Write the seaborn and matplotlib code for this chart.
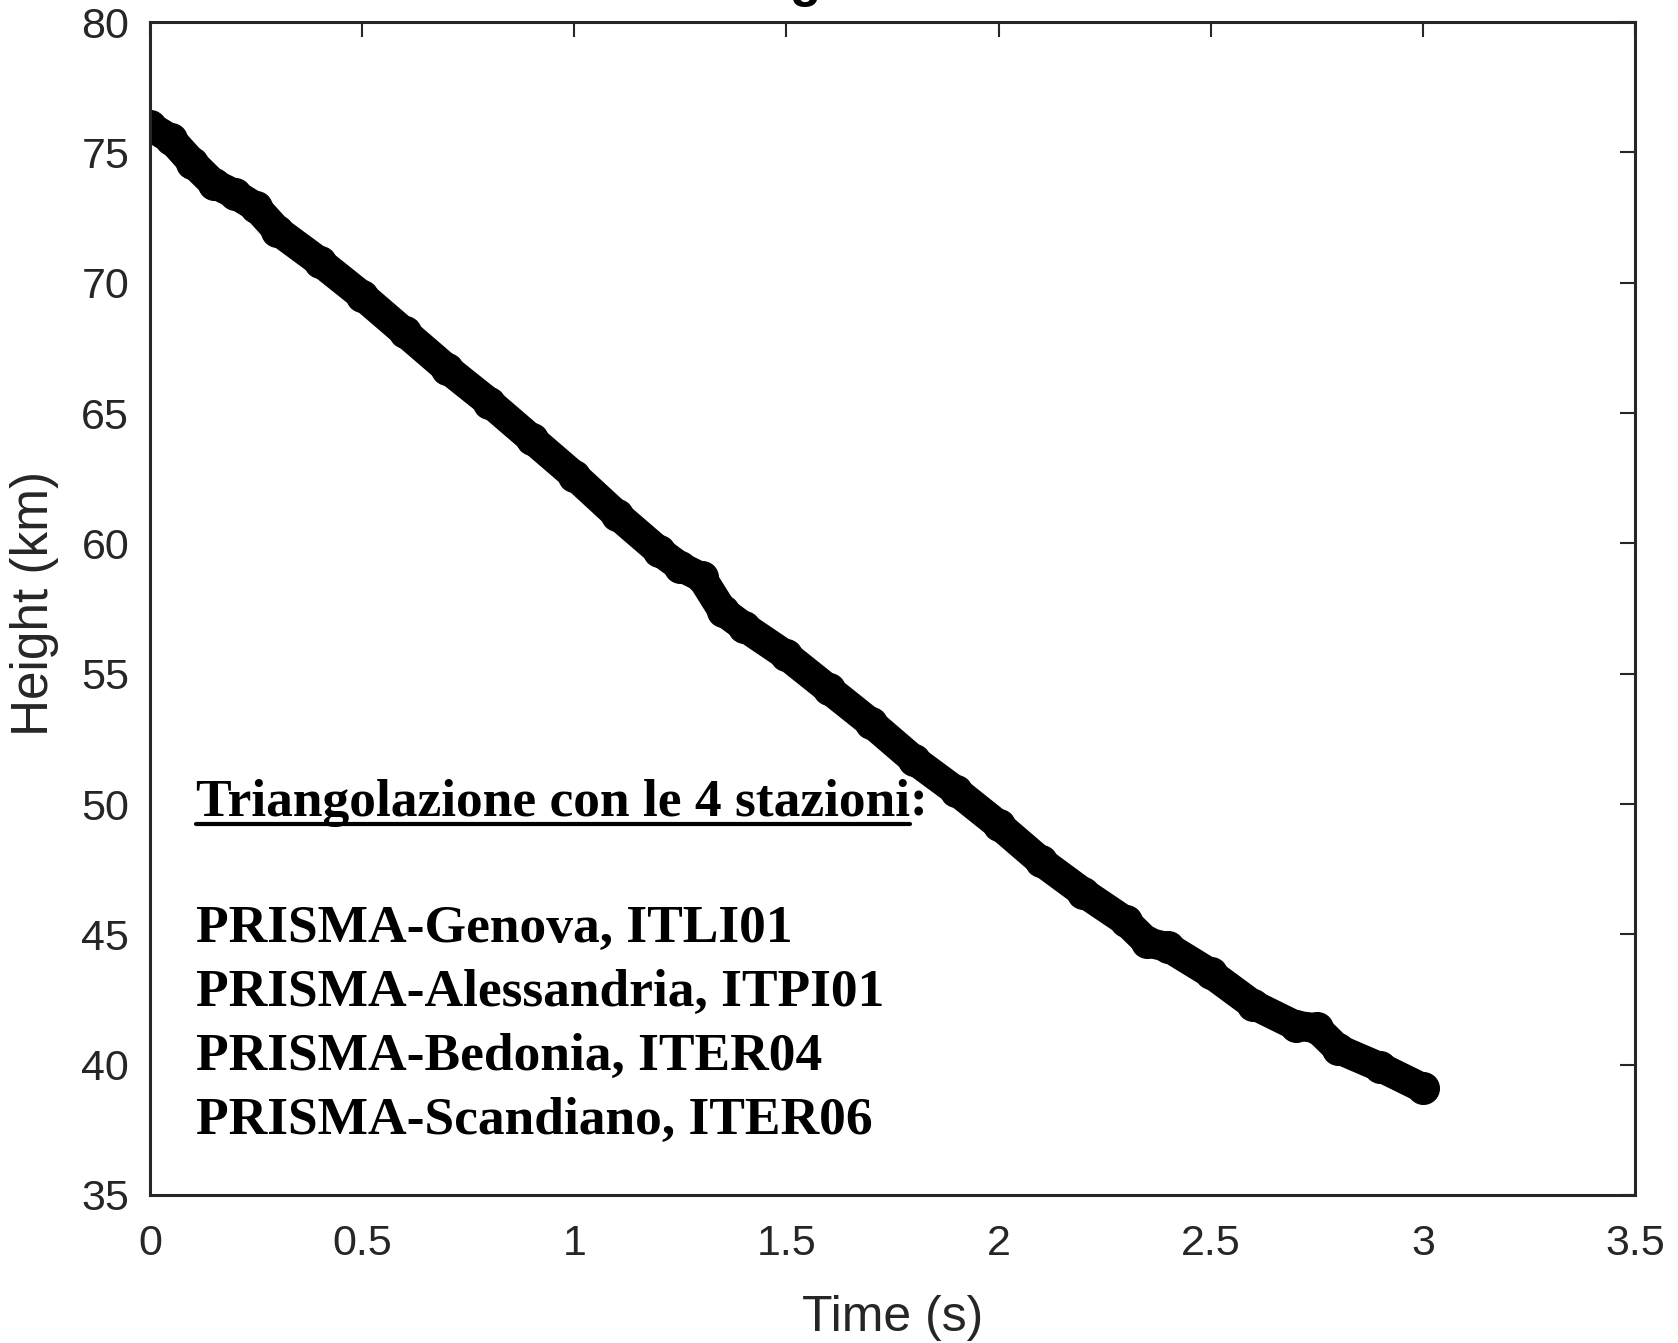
import matplotlib
matplotlib.use("Agg")
import matplotlib.pyplot as plt
import seaborn as sns
import pandas as pd

# ---- data ----
time_s = [0.00, 0.05, 0.10, 0.15, 0.20, 0.25, 0.30, 0.40, 0.50, 0.60, 0.70,
          0.80, 0.90, 1.00, 1.10, 1.20, 1.25, 1.30, 1.35, 1.40, 1.50, 1.60,
          1.70, 1.80, 1.90, 2.00, 2.10, 2.20, 2.30, 2.35, 2.40, 2.50, 2.60,
          2.70, 2.75, 2.80, 2.90, 3.00]
height_km = [76.0, 75.5, 74.6, 73.8, 73.4, 72.9, 72.0, 70.8, 69.5, 68.1, 66.7,
             65.4, 64.0, 62.6, 61.1, 59.7, 59.1, 58.7, 57.4, 56.8, 55.7, 54.4,
             53.1, 51.7, 50.5, 49.2, 47.8, 46.6, 45.5, 44.7, 44.5, 43.5, 42.3,
             41.5, 41.4, 40.6, 39.9, 39.1]

x_ticks = [0, 0.5, 1, 1.5, 2, 2.5, 3, 3.5]
x_tick_labels = ["0", "0.5", "1", "1.5", "2", "2.5", "3", "3.5"]
y_ticks = [35, 40, 45, 50, 55, 60, 65, 70, 75, 80]
y_tick_labels = ["35", "40", "45", "50", "55", "60", "65", "70", "75", "80"]

title_text = "Height vs Time"
x_label = "Time (s)"
y_label = "Height (km)"
heading = "Triangolazione con le 4 stazioni"
stations = ["PRISMA-Genova, ITLI01",
            "PRISMA-Alessandria, ITPI01",
            "PRISMA-Bedonia, ITER04",
            "PRISMA-Scandiano, ITER06"]

# ---- style ----
sns.set_theme(style="white")
plt.rcParams["font.family"] = ["Liberation Sans", "DejaVu Sans"]
ink = "#262626"

W, H = 1678, 1343
fig = plt.figure(figsize=(W / 100, H / 100), dpi=100)
ax_l, ax_r, ax_t, ax_b = 150, 1635, 22, 1195
ax = fig.add_axes([ax_l / W, 1 - ax_b / H, (ax_r - ax_l) / W, (ax_b - ax_t) / H])

df = pd.DataFrame({"Time": time_s, "Height": height_km})
sns.lineplot(data=df, x="Time", y="Height", ax=ax, sort=False, estimator=None,
             color="black", linewidth=21.5, marker="o", markersize=23,
             markerfacecolor="black", markeredgecolor="black",
             solid_capstyle="round", solid_joinstyle="round")

ax.set_xlim(0, 3.5)
ax.set_ylim(35, 80)
ax.set_xticks(x_ticks)
ax.set_xticklabels(x_tick_labels)
ax.set_yticks(y_ticks)
ax.set_yticklabels(y_tick_labels)
ax.tick_params(axis="both", direction="in", length=10.5, width=1.5, color=ink,
               labelcolor=ink, labelsize=31, top=True, right=True)
ax.tick_params(axis="x", pad=21)
ax.tick_params(axis="y", pad=15)
for s in ax.spines.values():
    s.set_visible(True)
    s.set_color(ink)
    s.set_linewidth(2.2)

ax.set_xlabel("")
ax.set_ylabel("")
fig.text(((ax_l + ax_r) / 2) / W, 1 - 1318 / H, x_label, ha="center", va="center",
         fontsize=36, color=ink)
fig.text(35 / W, 1 - 603 / H, y_label, ha="center", va="center", rotation=90,
         fontsize=37, color=ink)

# clipped title at the very top (only the descender shows in the reference)
fig.text(((ax_l + ax_r) / 2) / W, 1 + 4 / H, title_text, ha="center", va="baseline",
         fontsize=37, fontweight="bold", color="black")

# ---- annotation text ----
serif = ["Liberation Serif", "DejaVu Serif"]
fs = 38.5
tx = 196 / W
head = fig.text(tx, 1 - 816 / H, heading, ha="left", va="baseline", fontsize=fs,
                fontweight="bold", family=serif, color="black")
fig.canvas.draw()
bb = head.get_window_extent(renderer=fig.canvas.get_renderer())
fig.text(bb.x1 / W, 1 - 816 / H, ":", ha="left", va="baseline", fontsize=fs,
         fontweight="bold", family=serif, color="black")
uy = 1 - 824 / H
fig.add_artist(plt.Line2D([bb.x0 / W, bb.x1 / W], [uy, uy], color="black",
                          linewidth=3, transform=fig.transFigure))

for name, base in zip(stations, [942, 1006, 1070, 1134]):
    fig.text(tx, 1 - base / H, name, ha="left", va="baseline", fontsize=fs,
             fontweight="bold", family=serif, color="black")

fig.savefig("out.png", dpi=100)
